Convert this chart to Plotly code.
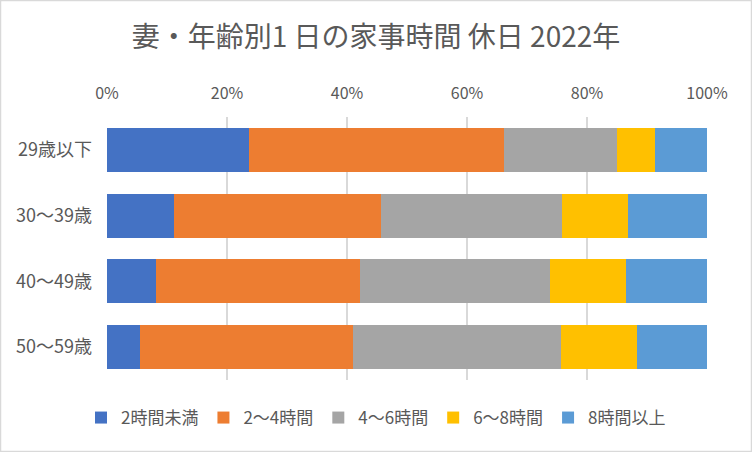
import plotly.graph_objects as go

categories = ["29歳以下", "30～39歳", "40～49歳", "50～59歳"]
series_names = ["2時間未満", "2～4時間", "4～6時間", "6～8時間", "8時間以上"]
s_lt2 = [23.7, 11.2, 8.2, 5.5]
s_2_4 = [42.4, 34.5, 33.9, 35.5]
s_4_6 = [18.9, 30.1, 31.7, 34.7]
s_6_8 = [6.3, 11.0, 12.7, 12.6]
s_ge8 = [8.7, 13.2, 13.5, 11.7]
colors = ["#4472C4", "#ED7D31", "#A5A5A5", "#FFC000", "#5B9BD5"]
tick_vals = [0, 20, 40, 60, 80, 100]
tick_text = ["0%", "20%", "40%", "60%", "80%", "100%"]

FONT = "Noto Sans CJK JP"
fig = go.Figure()
for name, vals, c in zip(series_names, [s_lt2, s_2_4, s_4_6, s_6_8, s_ge8], colors):
    fig.add_trace(go.Bar(y=categories, x=vals, name=name, orientation="h",
                         marker=dict(color=c, line=dict(width=0))))

W, H = 752, 452
ml, mr, mt, mb = 107, 45, 117, 72
pw, ph = W - ml - mr, H - mt - mb
fig.update_layout(
    width=W, height=H, barmode="stack", bargap=0.33,
    margin=dict(l=ml, r=mr, t=mt, b=mb),
    paper_bgcolor="white", plot_bgcolor="white",
    font=dict(family=FONT, color="#595959", size=17),
    title=dict(text="妻・年齢別1 日の家事時間 休日 2022年", x=0.5, xanchor="center",
               y=1 - 37 / H, yanchor="middle", font=dict(size=28, color="#595959", family=FONT)),
    xaxis=dict(side="top", range=[0, 100], tickvals=tick_vals, ticktext=tick_text,
               showgrid=True, gridcolor="#D9D9D9", gridwidth=1.5, zeroline=False,
               showline=False, ticks="", ticklabelstandoff=14,
               tickfont=dict(size=16, color="#595959")),
    yaxis=dict(categoryorder="array", categoryarray=categories, autorange="reversed",
               showgrid=False, showline=False, ticks="", ticklabelstandoff=14,
               tickfont=dict(size=18, color="#595959")),
    legend=dict(orientation="h", x=(376 - ml) / pw, xanchor="center", y=-(418 - 380) / ph, yanchor="middle",
                font=dict(size=17, color="#595959"), itemwidth=30, traceorder="normal"),
    showlegend=True,
)
fig.add_shape(type="rect", xref="paper", yref="paper",
              x0=-(ml - 0.5) / pw, x1=1 + (mr - 0.5) / pw, y0=-(mb - 0.5) / ph, y1=1 + (mt - 0.5) / ph,
              line=dict(color="#D9D9D9", width=1.5), fillcolor="rgba(0,0,0,0)", layer="below")
fig.write_html("out.html", config={"displayModeBar": False},
               post_script="document.body.style.margin='0px';")
